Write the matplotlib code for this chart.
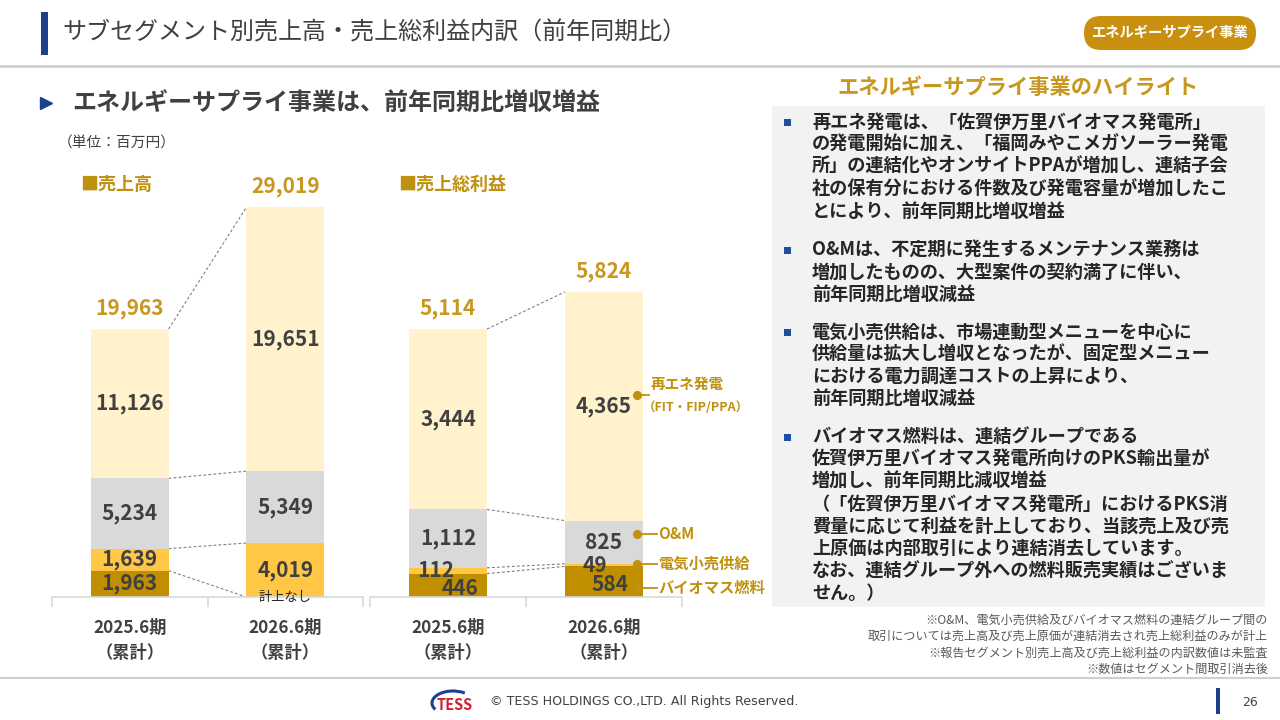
import matplotlib
matplotlib.use("Agg")
import matplotlib.pyplot as plt
from matplotlib.patches import Rectangle, FancyBboxPatch, Arc

plt.rcParams['font.family'] = ['Noto Sans CJK JP', 'DejaVu Sans']

# ---------------- data ----------------
periods = ["2025.6期\n（累計）", "2026.6期\n（累計）"]
segment_names = ["バイオマス燃料", "電気小売供給", "O&M", "再エネ発電"]
sales_biomass = [1963, 0]
sales_retail = [1639, 4019]
sales_om = [5234, 5349]
sales_renew = [11126, 19651]
sales_total = [19963, 29019]
gp_biomass = [446, 584]
gp_retail = [112, 49]
gp_om = [1112, 825]
gp_renew = [3444, 4365]
gp_total = [5114, 5824]

title = "サブセグメント別売上高・売上総利益内訳（前年同期比）"
subtitle = "エネルギーサプライ事業は、前年同期比増収増益"
unit_text = "（単位：百万円）"
badge_text = "エネルギーサプライ事業"
highlight_title = "エネルギーサプライ事業のハイライト"
bullets = [
    ["再エネ発電は、「佐賀伊万里バイオマス発電所」",
     "の発電開始に加え、「福岡みやこメガソーラー発電",
     "所」の連結化やオンサイトPPAが増加し、連結子会",
     "社の保有分における件数及び発電容量が増加したこ",
     "とにより、前年同期比増収増益"],
    ["O&Mは、不定期に発生するメンテナンス業務は",
     "増加したものの、大型案件の契約満了に伴い、",
     "前年同期比増収減益"],
    ["電気小売供給は、市場連動型メニューを中心に",
     "供給量は拡大し増収となったが、固定型メニュー",
     "における電力調達コストの上昇により、",
     "前年同期比増収減益"],
    ["バイオマス燃料は、連結グループである",
     "佐賀伊万里バイオマス発電所向けのPKS輸出量が",
     "増加し、前年同期比減収増益",
     "（「佐賀伊万里バイオマス発電所」におけるPKS消",
     "費量に応じて利益を計上しており、当該売上及び売",
     "上原価は内部取引により連結消去しています。",
     "なお、連結グループ外への燃料販売実績はございま",
     "せん。）"],
]
bullet_start_y = [122, 250, 332, 437]
footnotes = ["※O&M、電気小売供給及びバイオマス燃料の連結グループ間の",
             "取引については売上高及び売上原価が連結消去され売上総利益のみが計上",
             "※報告セグメント別売上高及び売上総利益の内訳数値は未監査",
             "※数値はセグメント間取引消去後"]

# ---------------- style ----------------
seg_colors = ["#BF8F00", "#FFC745", "#D9D9D9", "#FFF2CC"]
GOLD = "#C0900F"
GOLD_T = "#C8981E"
DARK = "#404040"
BLUE = "#1C3F8E"

fig = plt.figure(figsize=(12.8, 7.2), dpi=100)
fig.patch.set_facecolor("white")

ov = fig.add_axes([0, 0, 1, 1])
ov.set_xlim(0, 1280)
ov.set_ylim(720, 0)
ov.axis("off")

# header
ov.add_patch(Rectangle((41, 12), 7, 43, color=BLUE, lw=0))
ov.text(62, 33, title, fontsize=17.3, color=DARK, va="center", ha="left")
ov.plot([0, 1280], [66, 66], color="#D0D0D0", lw=2)
ov.add_patch(FancyBboxPatch((1084, 16), 172, 34, boxstyle="round,pad=0,rounding_size=17",
                            fc="#C8900E", ec="none"))
ov.text(1170, 33, badge_text, fontsize=10.3, color="white", weight="bold", ha="center", va="center")

# subtitle
ov.plot(46, 103, marker=">", ms=9, color=BLUE, mec=BLUE)
ov.text(72, 103, subtitle, fontsize=17.3, weight="bold", color=DARK, va="center")
ov.text(58, 144, unit_text, fontsize=10.6, color=DARK, va="center")
ov.text(80, 184, "■売上高", fontsize=13, weight="bold", color=GOLD, va="center")
ov.text(398, 184, "■売上総利益", fontsize=13, weight="bold", color=GOLD, va="center")

# highlight box
ov.text(1018, 88, highlight_title, fontsize=15.3, weight="bold", color=GOLD_T, ha="center", va="center")
ov.add_patch(Rectangle((772, 106), 493, 501, color="#F2F2F2", lw=0))
for lines, y0 in zip(bullets, bullet_start_y):
    ov.add_patch(Rectangle((784, y0 - 3.5), 7, 7, color="#1F4E9C", lw=0))
    for k, line in enumerate(lines):
        ov.text(812, y0 + k * 22.3, line, fontsize=13.1, weight="bold", color="#262626", va="center")

for k, fn in enumerate(footnotes):
    ov.text(1268, 620 + k * 16.5, fn, fontsize=8.7, color="#595959", ha="right", va="center")

# footer
ov.plot([0, 1280], [678, 678], color="#D0D0D0", lw=1.5)
ov.add_patch(Arc((453, 703), 42, 24, theta1=160, theta2=320, color=BLUE, lw=2.2))
ov.text(455, 705, "TESS", fontsize=10.5, weight="bold", color="#D0202E", ha="center", va="center")
ov.text(490, 702, "© TESS HOLDINGS CO.,LTD. All Rights Reserved.", fontsize=9.1,
        color=DARK, va="center", family="DejaVu Sans")
ov.add_patch(Rectangle((1216, 688), 4, 26, color=BLUE, lw=0))
ov.text(1250, 702, "26", fontsize=9, color=DARK, ha="center", va="center", family="DejaVu Sans")


# ---------------- charts ----------------
def px_axes(x0, x1, ytop, ybase):
    return fig.add_axes([x0 / 1280, (720 - ybase) / 720, (x1 - x0) / 1280, (ybase - ytop) / 720])


def draw_chart(ax, series, totals, ymax, label_offsets, zero_text=None):
    ax.set_xlim(-0.5, 1.5)
    ax.set_ylim(0, ymax)
    ax.patch.set_alpha(0)
    xs = [0, 1]
    bottoms = [0, 0]
    seg_bottoms = []
    for vals, col in zip(series, seg_colors):
        ax.bar(xs, vals, width=0.5, bottom=bottoms, color=col, zorder=2, lw=0)
        seg_bottoms.append(list(bottoms))
        bottoms = [b + v for b, v in zip(bottoms, vals)]
    tops = bottoms
    dash = dict(ls=(0, (2.5, 2)), color="#7F7F7F", lw=0.8, zorder=1)
    for sb in seg_bottoms[1:]:
        ax.plot([0.25, 0.75], sb, **dash)
    ax.plot([0.25, 0.75], tops, **dash)
    # segment labels
    for s, vals in enumerate(series):
        for i in range(2):
            v = vals[i]
            yc = seg_bottoms[s][i] + v / 2
            dx, dy = label_offsets.get((s, i), (0, 0))
            if v == 0:
                if zero_text:
                    ax.annotate(zero_text, (i, 0), xytext=(0, 0), textcoords="offset points",
                                ha="center", va="center", fontsize=9.5, color="#262626",
                                annotation_clip=False, zorder=4)
                continue
            ax.annotate(f"{v:,}", (i, yc), xytext=(dx, dy), textcoords="offset points",
                        ha="center", va="center", fontsize=15, weight="bold", color=DARK, zorder=4)
    for i, t in enumerate(totals):
        ax.annotate(f"{t:,}", (i, tops[i]), xytext=(0, 15), textcoords="offset points",
                    ha="center", va="center", fontsize=15, weight="bold", color=GOLD_T)
    for side in ["left", "right", "top"]:
        ax.spines[side].set_visible(False)
    ax.spines["bottom"].set_color("#D9D9D9")
    ax.spines["bottom"].set_linewidth(1.2)
    ax.set_yticks([])
    ax.set_xticks(xs)
    ax.set_xticklabels(periods, fontsize=12.4, weight="bold", color=DARK, linespacing=1.45)
    ax.tick_params(axis="x", which="major", length=0, pad=16)
    ax.set_xticks([-0.5, 0.5, 1.5], minor=True)
    ax.tick_params(axis="x", which="minor", length=7, color="#D9D9D9", width=1.2)
    return seg_bottoms, tops


ax1 = px_axes(52, 363, 150, 597)
draw_chart(ax1, [sales_biomass, sales_retail, sales_om, sales_renew], sales_total,
           447 / 0.01343, {}, zero_text="計上なし")

ax2 = px_axes(370, 682, 150, 597)
gp_series = [gp_biomass, gp_retail, gp_om, gp_renew]
seg_b, tops2 = draw_chart(ax2, gp_series, gp_total, 447 / 0.0524,
                          {(0, 0): (9, -2), (1, 0): (-9, 0), (0, 1): (4, -2), (1, 1): (-6.5, 0)})

# right-side segment callouts for the 2026 gross profit bar
callout_frac = [0.29, 0.94, 0.69, 0.55]
callout_texts = ["バイオマス燃料", "電気小売供給", "O&M", "再エネ発電"]
for s in range(4):
    b = seg_b[s][1]
    y = b + callout_frac[s] * gp_series[s][1]
    xd = 1.21
    if s == 3:
        ax2.plot([xd, 1.29], [y, y], color=GOLD, lw=1.3, clip_on=False, zorder=5)
        ax2.plot(xd, y, "o", ms=5.5, color=GOLD, clip_on=False, zorder=5)
        ax2.annotate("再エネ発電", (1.29, y), xytext=(1, 8), textcoords="offset points",
                     ha="left", va="center", fontsize=10.5, weight="bold", color=GOLD,
                     annotation_clip=False)
        ax2.annotate("（FIT・FIP/PPA）", (1.25, y), xytext=(0, -9), textcoords="offset points",
                     ha="left", va="center", fontsize=9, weight="bold", color=GOLD,
                     annotation_clip=False)
    else:
        ax2.plot([xd, 1.34], [y, y], color=GOLD, lw=1.3, clip_on=False, zorder=5)
        ax2.plot(xd, y, "o", ms=5.5, color=GOLD, clip_on=False, zorder=5)
        ax2.annotate(callout_texts[s], (1.34, y), xytext=(1, 0), textcoords="offset points",
                     ha="left", va="center", fontsize=11, weight="bold", color=GOLD,
                     annotation_clip=False)

fig.savefig("out.png", dpi=100, facecolor="white")
